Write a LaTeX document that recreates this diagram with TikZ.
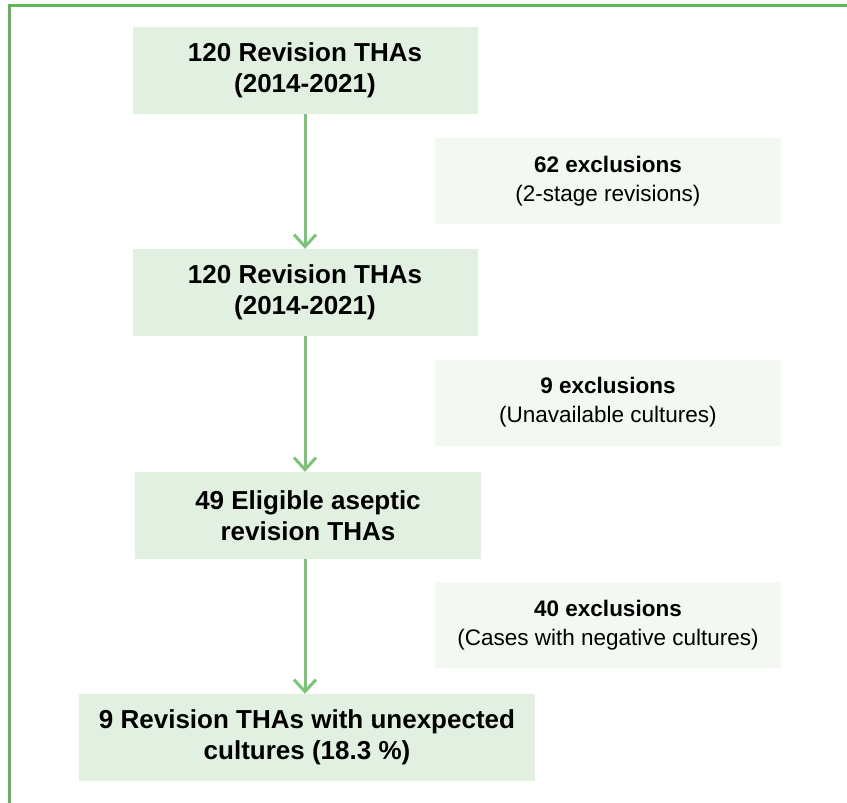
\documentclass[tikz,border=0pt]{standalone}
\usepackage{fontspec}
\setmainfont{Liberation Sans}
\usetikzlibrary{arrows.meta}
\definecolor{framegreen}{RGB}{96,181,88}
\definecolor{arrowgreen}{RGB}{124,196,118}
\definecolor{boxfill}{RGB}{226,240,225}
\definecolor{exclfill}{RGB}{243,248,242}
\tikzset{
  stagebox/.style={fill=boxfill, minimum width=345pt, minimum height=87pt, inner sep=0pt, align=center, font=\fontsize{26}{31}\selectfont\bfseries},
  exclbox/.style={fill=exclfill, minimum width=346pt, minimum height=86pt, inner sep=0pt, align=center, font=\fontsize{22.5}{29}\selectfont},
  flow/.style={draw=arrowgreen, line width=3pt, -{Straight Barb[length=12pt,width=22pt]}}
}
\begin{document}
\begin{tikzpicture}[x=1pt,y=-1pt]
    \useasboundingbox (0,0) rectangle (847,803);
    \draw [framegreen, line width=3pt] (847,5.5) -- (9.5,5.5) -- (9.5,803);
    \node [stagebox] (all) at (305,70.5) {120 Revision THAs\\(2014-2021)};
    \node [exclbox] (ex1) at (608,181) {\textbf{62 exclusions}\\(2-stage revisions)};
    \node [stagebox] (onestage) at (305,292.5) {120 Revision THAs\\(2014-2021)};
    \node [exclbox] (ex2) at (608,402.5) {\textbf{9 exclusions}\\(Unavailable cultures)};
    \node [stagebox, minimum width=346pt] (eligible) at (308,515.5) {49 Eligible aseptic\\revision THAs};
    \node [exclbox] (ex3) at (608,625) {\textbf{40 exclusions}\\(Cases with negative cultures)};
    \node [stagebox, minimum width=456pt] (positive) at (307,737.5) {9 Revision THAs with unexpected\\cultures (18.3 \%)};
    \draw [flow] (all.south) -- (onestage.north);
    \draw [flow] (onestage.south) -- (onestage.south |- eligible.north);
    \draw [flow] (onestage.south |- eligible.south) -- (onestage.south |- positive.north);
\end{tikzpicture}
\end{document}
